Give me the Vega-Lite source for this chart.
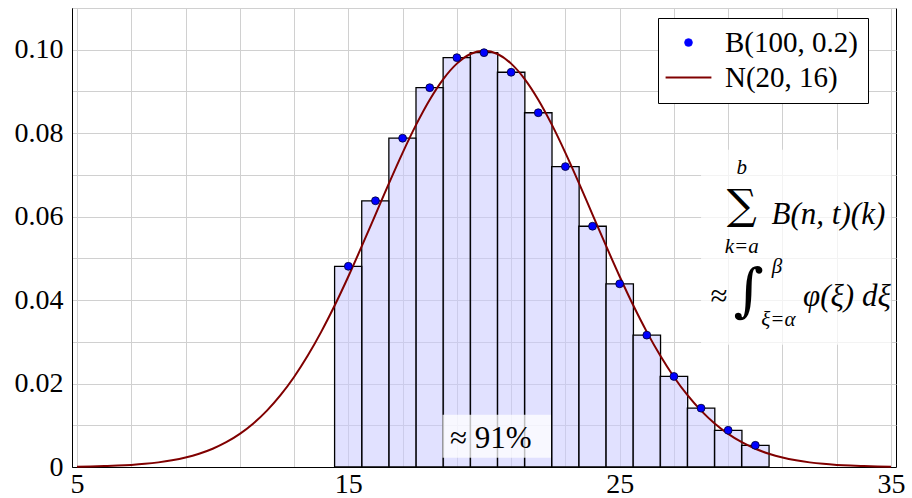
{
  "$schema": "https://vega.github.io/schema/vega-lite/v6.json",
  "width": 824,
  "height": 459,
  "autosize": {"type": "none"},
  "padding": {"left": 72, "top": 8, "right": 16, "bottom": 31},
  "background": "white",
  "config": {
    "font": "Liberation Serif",
    "view": {"stroke": "black", "strokeWidth": 1},
    "text": {"font": "Liberation Serif"},
    "legend": {"labelFont": "Liberation Serif"},
    "axis": {
      "labelFont": "Liberation Serif",
      "labelFontSize": 28,
      "labelColor": "black",
      "domainColor": "black",
      "domainWidth": 1,
      "gridColor": "#d0d0d0",
      "gridWidth": 1,
      "ticks": false,
      "labelOverlap": false,
      "labelFlush": false
    }
  },
  "datasets": {
    "binom": [
      {"x": 15, "y": 0.0481}, {"x": 16, "y": 0.0638}, {"x": 17, "y": 0.0788},
      {"x": 18, "y": 0.0909}, {"x": 19, "y": 0.0981}, {"x": 20, "y": 0.0993},
      {"x": 21, "y": 0.0946}, {"x": 22, "y": 0.0849}, {"x": 23, "y": 0.0720},
      {"x": 24, "y": 0.0577}, {"x": 25, "y": 0.0439}, {"x": 26, "y": 0.0316},
      {"x": 27, "y": 0.0217}, {"x": 28, "y": 0.0141}, {"x": 29, "y": 0.0088},
      {"x": 30, "y": 0.0052}
    ],
    "normal": [
      {"x": 5, "y": 0.0000882}, {"x": 5.5, "y": 0.000140}, {"x": 6, "y": 0.000218},
      {"x": 6.5, "y": 0.000335}, {"x": 7, "y": 0.000508}, {"x": 7.5, "y": 0.000756},
      {"x": 8, "y": 0.00111}, {"x": 8.5, "y": 0.00160}, {"x": 9, "y": 0.00227},
      {"x": 9.5, "y": 0.00318}, {"x": 10, "y": 0.00438}, {"x": 10.5, "y": 0.00594},
      {"x": 11, "y": 0.00794}, {"x": 11.5, "y": 0.01043}, {"x": 12, "y": 0.01350},
      {"x": 12.5, "y": 0.01720}, {"x": 13, "y": 0.02157}, {"x": 13.5, "y": 0.02664},
      {"x": 14, "y": 0.03238}, {"x": 14.5, "y": 0.03875}, {"x": 15, "y": 0.04566},
      {"x": 15.5, "y": 0.05297}, {"x": 16, "y": 0.06049}, {"x": 16.5, "y": 0.06802},
      {"x": 17, "y": 0.07529}, {"x": 17.5, "y": 0.08204}, {"x": 18, "y": 0.08802},
      {"x": 18.5, "y": 0.09297}, {"x": 19, "y": 0.09667}, {"x": 19.5, "y": 0.09897},
      {"x": 20, "y": 0.09974},
      {"x": 20.5, "y": 0.09897}, {"x": 21, "y": 0.09667}, {"x": 21.5, "y": 0.09297},
      {"x": 22, "y": 0.08802}, {"x": 22.5, "y": 0.08204}, {"x": 23, "y": 0.07529},
      {"x": 23.5, "y": 0.06802}, {"x": 24, "y": 0.06049}, {"x": 24.5, "y": 0.05297},
      {"x": 25, "y": 0.04566}, {"x": 25.5, "y": 0.03875}, {"x": 26, "y": 0.03238},
      {"x": 26.5, "y": 0.02664}, {"x": 27, "y": 0.02157}, {"x": 27.5, "y": 0.01720},
      {"x": 28, "y": 0.01350}, {"x": 28.5, "y": 0.01043}, {"x": 29, "y": 0.00794},
      {"x": 29.5, "y": 0.00594}, {"x": 30, "y": 0.00438}, {"x": 30.5, "y": 0.00318},
      {"x": 31, "y": 0.00227}, {"x": 31.5, "y": 0.00160}, {"x": 32, "y": 0.00111},
      {"x": 32.5, "y": 0.000756}, {"x": 33, "y": 0.000508}, {"x": 33.5, "y": 0.000335},
      {"x": 34, "y": 0.000218}, {"x": 34.5, "y": 0.000140}, {"x": 35, "y": 0.0000882}
    ],
    "boxes": [
      {"x": 28.0, "x2": 35, "y": 0.0293, "y2": 0.0760},
      {"x": 18.47, "x2": 22.47, "y": 0.0022, "y2": 0.0125}
    ]
  },
  "layer": [
    {
      "data": {"name": "binom"},
      "mark": {"type": "bar", "width": 27.47, "fill": "#c8c8ff", "fillOpacity": 0.55, "stroke": "black", "strokeWidth": 1.3},
      "encoding": {
        "x": {
          "field": "x", "type": "quantitative", "title": null,
          "scale": {"domain": [5, 35], "nice": false, "zero": false},
          "axis": {
            "values": [5,6,7,8,9,10,11,12,13,14,15,16,17,18,19,20,21,22,23,24,25,26,27,28,29,30,31,32,33,34,35],
            "labelExpr": "datum.value % 5 === 0 ? datum.label : ''",
            "format": "d", "labelPadding": 3, "grid": true
          }
        },
        "y": {
          "field": "y", "type": "quantitative", "title": null,
          "scale": {"domain": [0, 0.11], "nice": false},
          "axis": {
            "values": [0, 0.01, 0.02, 0.03, 0.04, 0.05, 0.06, 0.07, 0.08, 0.09, 0.10, 0.11],
            "labelExpr": "datum.value === 0 ? '0' : (round(datum.value * 100) % 2 === 0 ? format(datum.value, '.2f') : '')",
            "labelPadding": 9, "grid": true
          }
        }
      }
    },
    {
      "data": {"name": "boxes"},
      "mark": {"type": "rect", "fill": "white", "opacity": 0.75},
      "encoding": {
        "x": {"field": "x", "type": "quantitative", "title": null},
        "x2": {"field": "x2"},
        "y": {"field": "y", "type": "quantitative", "title": null},
        "y2": {"field": "y2"}
      }
    },
    {
      "data": {"name": "normal"},
      "mark": {"type": "line", "strokeWidth": 2, "interpolate": "monotone"},
      "encoding": {
        "x": {"field": "x", "type": "quantitative", "title": null},
        "y": {"field": "y", "type": "quantitative", "title": null},
        "color": {
          "datum": "N(20, 16)",
          "scale": {"domain": ["B(100, 0.2)", "N(20, 16)"], "range": ["#0000ff", "#800000"]},
          "legend": {
            "title": null,
            "orient": "none",
            "legendX": 586,
            "legendY": 10,
            "fillColor": "white",
            "strokeColor": "black",
            "padding": 10,
            "symbolOffset": 6,
            "rowPadding": 5,
            "labelFont": "Liberation Serif",
            "labelFontSize": 29,
            "labelColor": "black",
            "labelLimit": 400,
            "labelOffset": 22,
            "encode": {
              "symbols": {
                "update": {
                  "shape": {"signal": "datum.value === 'N(20, 16)' ? 'stroke' : 'circle'"},
                  "size": {"signal": "datum.value === 'N(20, 16)' ? 2100 : 60"},
                  "fill": {"signal": "datum.value === 'N(20, 16)' ? 'transparent' : '#0000ff'"},
                  "stroke": {"signal": "datum.value === 'N(20, 16)' ? '#800000' : '#000030'"},
                  "strokeWidth": {"signal": "datum.value === 'N(20, 16)' ? 2 : 0.8"}
                }
              }
            }
          }
        }
      }
    },
    {
      "data": {"name": "binom"},
      "mark": {"type": "point", "filled": true, "size": 62, "stroke": "#000030", "strokeWidth": 0.8, "opacity": 1},
      "encoding": {
        "x": {"field": "x", "type": "quantitative", "title": null},
        "y": {"field": "y", "type": "quantitative", "title": null},
        "color": {
          "datum": "B(100, 0.2)",
          "legend": {
            "title": null,
            "orient": "none",
            "legendX": 586,
            "legendY": 10,
            "fillColor": "white",
            "strokeColor": "black",
            "padding": 10,
            "symbolOffset": 6,
            "rowPadding": 5,
            "labelFont": "Liberation Serif",
            "labelFontSize": 29,
            "labelColor": "black",
            "labelLimit": 400,
            "labelOffset": 22,
            "encode": {
              "symbols": {
                "update": {
                  "shape": {"signal": "datum.value === 'N(20, 16)' ? 'stroke' : 'circle'"},
                  "size": {"signal": "datum.value === 'N(20, 16)' ? 2100 : 60"},
                  "fill": {"signal": "datum.value === 'N(20, 16)' ? 'transparent' : '#0000ff'"},
                  "stroke": {"signal": "datum.value === 'N(20, 16)' ? '#800000' : '#000030'"},
                  "strokeWidth": {"signal": "datum.value === 'N(20, 16)' ? 2 : 0.8"}
                }
              }
            }
          }
        }
      }
    },
    {
      "data": {"values": [
        {"x": 30.6, "y": 0.0605, "t": "B(n, t)(k)"},
        {"x": 31.76, "y": 0.0408, "t": "φ(ξ) dξ"}
      ]},
      "mark": {"type": "text", "align": "left", "baseline": "middle", "font": "Liberation Serif", "fontStyle": "italic", "fontSize": 31, "color": "black"},
      "encoding": {
        "x": {"field": "x", "type": "quantitative", "title": null},
        "y": {"field": "y", "type": "quantitative", "title": null},
        "text": {"field": "t"}
      }
    },
    {
      "data": {"values": [
        {"x": 29.5, "y": 0.0716, "t": "b"},
        {"x": 29.5, "y": 0.0528, "t": "k=a"},
        {"x": 30.8, "y": 0.0480, "t": "β"},
        {"x": 30.85, "y": 0.0352, "t": "ξ=α"}
      ]},
      "mark": {"type": "text", "align": "center", "baseline": "middle", "font": "Liberation Serif", "fontStyle": "italic", "fontSize": 21, "color": "black"},
      "encoding": {
        "x": {"field": "x", "type": "quantitative", "title": null},
        "y": {"field": "y", "type": "quantitative", "title": null},
        "text": {"field": "t"}
      }
    },
    {
      "data": {"values": [
        {"x": 29.5, "y": 0.0626, "t": "∑"}
      ]},
      "mark": {"type": "text", "align": "center", "baseline": "middle", "font": "DejaVu Serif", "fontSize": 42, "color": "black"},
      "encoding": {
        "x": {"field": "x", "type": "quantitative", "title": null},
        "y": {"field": "y", "type": "quantitative", "title": null},
        "text": {"field": "t"}
      }
    },
    {
      "data": {"values": [
        {"x": 29.75, "y": 0.0417, "t": "∫"}
      ]},
      "mark": {"type": "text", "align": "center", "baseline": "middle", "font": "DejaVu Serif", "fontSize": 58, "color": "black"},
      "encoding": {
        "x": {"field": "x", "type": "quantitative", "title": null},
        "y": {"field": "y", "type": "quantitative", "title": null},
        "text": {"field": "t"}
      }
    },
    {
      "data": {"values": [
        {"x": 28.66, "y": 0.0408, "t": "≈"},
        {"x": 20.25, "y": 0.0066, "t": "≈ 91%"}
      ]},
      "mark": {"type": "text", "align": "center", "baseline": "middle", "font": "Liberation Serif", "fontSize": 31, "color": "black"},
      "encoding": {
        "x": {"field": "x", "type": "quantitative", "title": null},
        "y": {"field": "y", "type": "quantitative", "title": null},
        "text": {"field": "t"}
      }
    }
  ]
}
